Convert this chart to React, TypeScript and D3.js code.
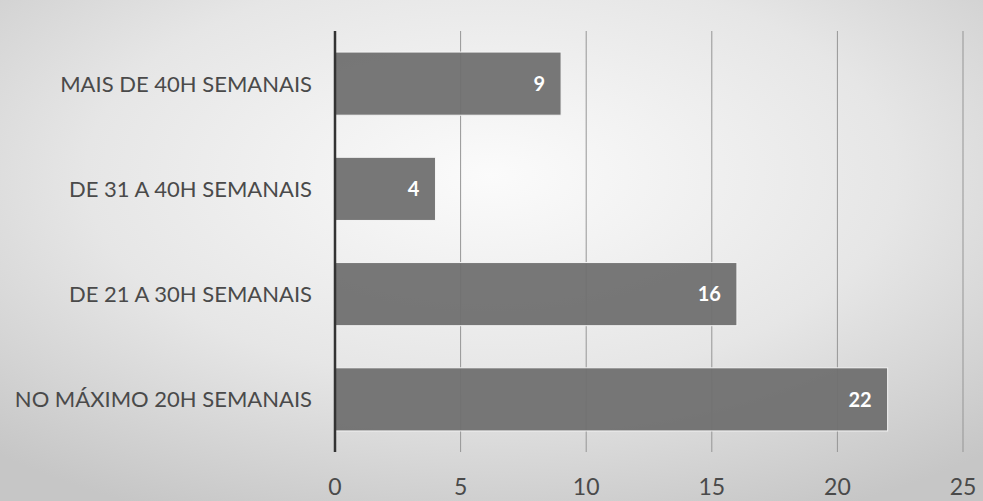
import React from "react";
import * as d3 from "d3";

const categories = [
  "MAIS DE 40H SEMANAIS",
  "DE 31 A 40H SEMANAIS",
  "DE 21 A 30H SEMANAIS",
  "NO MÁXIMO 20H SEMANAIS",
];
const values = [9, 4, 16, 22];
const xTicks = [0, 5, 10, 15, 20, 25];

const W = 983;
const H = 501;
const margin = { left: 335, right: 20, top: 31, bottom: 49 };

export default function App() {
  const x = d3.scaleLinear().domain([0, 25]).range([margin.left, 963]);
  const y = d3
    .scaleBand<string>()
    .domain(categories)
    .range([margin.top, H - margin.bottom])
    .paddingInner(0.4)
    .paddingOuter(0.2);
  const font = "Lato, 'Open Sans', sans-serif";
  return (
    <div style={{ position: "absolute", left: 0, top: 0 }}>
      <svg width={W} height={H} style={{ display: "block" }}>
        <defs>
          <radialGradient id="bg" cx="50%" cy="35%" r="75%">
            <stop offset="0%" stopColor="#fbfbfb" />
            <stop offset="55%" stopColor="#e6e6e6" />
            <stop offset="100%" stopColor="#c6c6c6" />
          </radialGradient>
        </defs>
        <rect x={0} y={0} width={W} height={H} fill="url(#bg)" />
        {xTicks.map((t) => (
          <line
            key={"g" + t}
            x1={x(t)}
            x2={x(t)}
            y1={margin.top}
            y2={H - margin.bottom}
            stroke="#959595"
            strokeWidth={1}
          />
        ))}
        {categories.map((c, i) => (
          <g key={c}>
            <rect
              x={x(0)}
              y={y(c)!}
              width={x(values[i]) - x(0)}
              height={y.bandwidth()}
              fill="#707070"
              fillOpacity={0.95}
              stroke="#f4f4f4"
              strokeWidth={1}
            />
            <text
              x={x(values[i]) - 16}
              y={y(c)! + y.bandwidth() / 2}
              dy="0.36em"
              textAnchor="end"
              fill="#ffffff"
              fontWeight="bold"
              fontSize={20}
              fontFamily={font}
            >
              {values[i]}
            </text>
            <text
              x={margin.left - 23}
              y={y(c)! + y.bandwidth() / 2}
              dy="0.36em"
              textAnchor="end"
              fill="#4a4a4a"
              fontSize={22}
              fontFamily={font}
            >
              {c}
            </text>
          </g>
        ))}
        <line
          x1={x(0)}
          x2={x(0)}
          y1={margin.top}
          y2={H - margin.bottom}
          stroke="#333333"
          strokeWidth={2.5}
        />
        {xTicks.map((t) => (
          <text
            key={"t" + t}
            x={x(t)}
            y={487}
            dy="0.36em"
            textAnchor="middle"
            fill="#4a4a4a"
            fontSize={23}
            fontFamily={font}
          >
            {t}
          </text>
        ))}
      </svg>
    </div>
  );
}
